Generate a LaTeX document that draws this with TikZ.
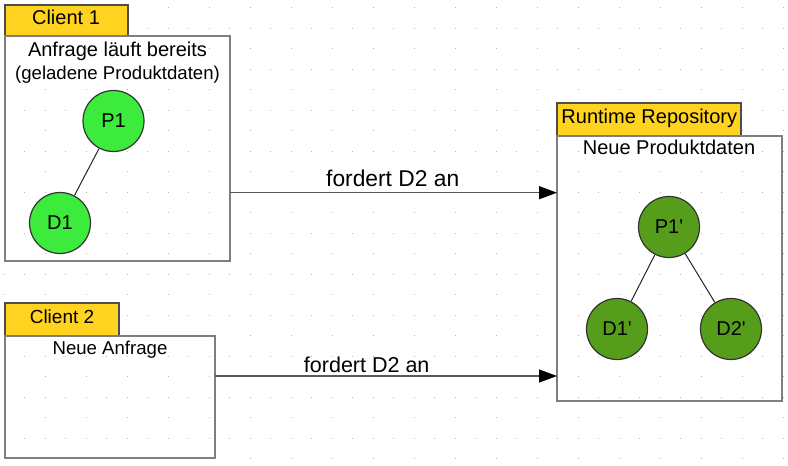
\documentclass[tikz,border=0pt]{standalone}
\usepackage{fontspec}
\setmainfont{Liberation Sans}[Ligatures=TeXOff]
\usetikzlibrary{arrows.meta}
\definecolor{gold}{HTML}{FFD320}
\definecolor{lgreen}{HTML}{3DEB3D}
\definecolor{dgreen}{HTML}{579D1C}
\definecolor{boxgray}{HTML}{7F7F7F}
\definecolor{tabedge}{HTML}{4D4D4D}
\definecolor{dotgray}{HTML}{B8B8B8}
\definecolor{linegray}{HTML}{5A5A5A}
\newcommand{\fsz}[1]{\fontsize{#1}{#1}\selectfont}
\begin{document}
\begin{tikzpicture}[x=1pt,y=-1pt,
  every node/.style={font=\fsz{20}},
  tabbox/.style={draw=tabedge, line width=1.3pt, fill=gold, inner sep=0pt, outer sep=0pt, anchor=north west},
  framebox/.style={draw=boxgray, line width=1.8pt, inner sep=0pt, outer sep=0pt, anchor=north west},
  txt/.style={anchor=base, inner sep=0pt},
  lightnode/.style={circle, draw=black!80, line width=1.2pt, fill=lgreen, minimum size=61pt, inner sep=0pt},
  darknode/.style={circle, draw=black!80, line width=1.2pt, fill=dgreen, minimum size=61pt, inner sep=0pt},
  edge/.style={draw=black!85, line width=1pt},
  arr/.style={draw=linegray, line width=1.4pt, -{Triangle[length=18pt,width=13pt,color=black]}}
]
\useasboundingbox (0,0) rectangle (788,466);
\fill[white] (0,0) rectangle (788,466);
% grid dots
\foreach \m in {0,...,10}{
  \foreach \n in {0,...,38}{
    \fill[dotgray] ({4.3+20.5*\n-0.6},{28.3+41*\m-0.6}) rectangle ++(1.2,1.2);
  }
}
\foreach \n in {0,...,19}{
  \foreach \k in {0,...,22}{
    \fill[dotgray] ({4.3+41*\n-0.6},{7.8+20.5*\k-0.6}) rectangle ++(1.2,1.2);
  }
}
% Client 1
\node[tabbox, minimum width=123pt, minimum height=31pt] (t1) at (5,5) {};
\node[framebox, minimum width=225pt, minimum height=225pt] (c1) at (5,36) {};
\node[txt] (t1l) at (66,24) {Client 1};
\node[txt] (c1a) at (117.5,56.3) {Anfrage läuft bereits};
\node[txt, font=\fsz{18.6}] (c1b) at (117.5,79.7) {(geladene Produktdaten)};
\node[lightnode] (p1) at (113.5,121) {P1};
\node[lightnode] (d1) at (60,223) {D1};
\draw[edge] (p1) -- (d1);
% Client 2
\node[tabbox, minimum width=114pt, minimum height=33pt] (t2) at (5,303) {};
\node[framebox, minimum width=210pt, minimum height=122pt] (c2) at (5,336) {};
\node[txt, font=\fsz{19}] (t2l) at (62,323.3) {Client 2};
\node[txt, font=\fsz{18.6}] (c2a) at (110,354.3) {Neue Anfrage};
% Runtime Repository
\node[tabbox, minimum width=184pt, minimum height=33pt] (tr) at (557,103) {};
\node[framebox, minimum width=225pt, minimum height=265pt] (rr) at (557,136) {};
\node[txt] (trl) at (649.3,123.3) {Runtime Repository};
\node[txt] (rra) at (669,154.3) {Neue Produktdaten};
\node[darknode] (p1s) at (669,227) {P1'};
\node[darknode] (d1s) at (617,329) {D1'};
\node[darknode] (d2s) at (731,329) {D2'};
\draw[edge] (p1s) -- (d1s);
\draw[edge] (p1s) -- (d2s);
% arrows
\coordinate (y1) at (0,192.7);
\coordinate (y2) at (0,376);
\draw[arr] (c1.east |- y1) -- (rr.west |- y1);
\draw[arr] (c2.east |- y2) -- (rr.west |- y2);
\node[txt, font=\fsz{22.8}] (l1) at (392.7,186.7) {fordert D2 an};
\node[txt, font=\fsz{21.5}] (l2) at (366.7,372.3) {fordert D2 an};
\end{tikzpicture}
\end{document}
